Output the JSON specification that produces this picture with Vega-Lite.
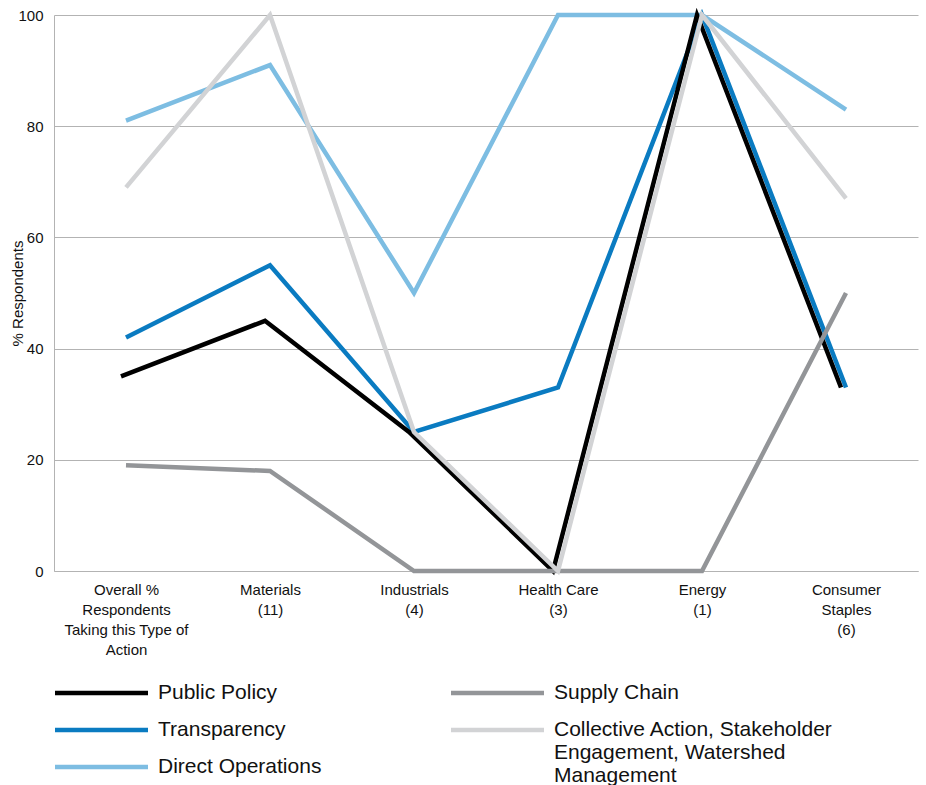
{
  "$schema": "https://vega.github.io/schema/vega-lite/v6.json",
  "width": 864,
  "height": 556,
  "autosize": {"type": "none"},
  "padding": {"left": 54, "top": 15, "right": 8, "bottom": 214},
  "background": "white",
  "config": {
    "font": "Liberation Sans",
    "view": {"stroke": null},
    "style": {"guide-label": {"lineHeight": 23}}
  },
  "data": {
    "values": [
      {"series": "Direct Operations", "sector": "Overall % Respondents Taking this Type of Action", "pct": 81},
      {"series": "Direct Operations", "sector": "Materials (11)", "pct": 91},
      {"series": "Direct Operations", "sector": "Industrials (4)", "pct": 50},
      {"series": "Direct Operations", "sector": "Health Care (3)", "pct": 100},
      {"series": "Direct Operations", "sector": "Energy (1)", "pct": 100},
      {"series": "Direct Operations", "sector": "Consumer Staples (6)", "pct": 83},
      {"series": "Transparency", "sector": "Overall % Respondents Taking this Type of Action", "pct": 42},
      {"series": "Transparency", "sector": "Materials (11)", "pct": 55},
      {"series": "Transparency", "sector": "Industrials (4)", "pct": 25},
      {"series": "Transparency", "sector": "Health Care (3)", "pct": 33},
      {"series": "Transparency", "sector": "Energy (1)", "pct": 100},
      {"series": "Transparency", "sector": "Consumer Staples (6)", "pct": 33},
      {"series": "Public Policy", "sector": "Overall % Respondents Taking this Type of Action", "pct": 35},
      {"series": "Public Policy", "sector": "Materials (11)", "pct": 45},
      {"series": "Public Policy", "sector": "Industrials (4)", "pct": 25},
      {"series": "Public Policy", "sector": "Health Care (3)", "pct": 0},
      {"series": "Public Policy", "sector": "Energy (1)", "pct": 100},
      {"series": "Public Policy", "sector": "Consumer Staples (6)", "pct": 33},
      {"series": "Supply Chain", "sector": "Overall % Respondents Taking this Type of Action", "pct": 19},
      {"series": "Supply Chain", "sector": "Materials (11)", "pct": 18},
      {"series": "Supply Chain", "sector": "Industrials (4)", "pct": 0},
      {"series": "Supply Chain", "sector": "Health Care (3)", "pct": 0},
      {"series": "Supply Chain", "sector": "Energy (1)", "pct": 0},
      {"series": "Supply Chain", "sector": "Consumer Staples (6)", "pct": 50},
      {"series": "Collective Action, Stakeholder Engagement, Watershed Management", "sector": "Overall % Respondents Taking this Type of Action", "pct": 69},
      {"series": "Collective Action, Stakeholder Engagement, Watershed Management", "sector": "Materials (11)", "pct": 100},
      {"series": "Collective Action, Stakeholder Engagement, Watershed Management", "sector": "Industrials (4)", "pct": 25},
      {"series": "Collective Action, Stakeholder Engagement, Watershed Management", "sector": "Health Care (3)", "pct": 0},
      {"series": "Collective Action, Stakeholder Engagement, Watershed Management", "sector": "Energy (1)", "pct": 100},
      {"series": "Collective Action, Stakeholder Engagement, Watershed Management", "sector": "Consumer Staples (6)", "pct": 67}
    ]
  },
  "encoding": {
    "x": {
      "field": "sector",
      "type": "nominal",
      "sort": ["Overall % Respondents Taking this Type of Action", "Materials (11)", "Industrials (4)", "Health Care (3)", "Energy (1)", "Consumer Staples (6)"],
      "scale": {"type": "point", "padding": 0.5},
      "axis": {
        "title": null,
        "labelAngle": 0,
        "labelFontSize": 15,
        "labelColor": "#111111",
        "labelLineHeight": 20,
        "labelPadding": 11.5,
        "labelOverlap": false,
        "labelLimit": 0,
        "ticks": false,
        "grid": false,
        "domainColor": "#b3b3b3",
        "domainWidth": 1,
        "labelExpr": "datum.value == 'Overall % Respondents Taking this Type of Action' ? ['Overall %', 'Respondents', 'Taking this Type of', 'Action'] : datum.value == 'Consumer Staples (6)' ? ['Consumer', 'Staples', '(6)'] : split(replace(datum.value, ' (', '|('), '|')"
      }
    },
    "y": {
      "field": "pct",
      "type": "quantitative",
      "scale": {"domain": [0, 100], "nice": false},
      "axis": {
        "title": "% Respondents",
        "values": [0, 20, 40, 60, 80, 100],
        "labelFontSize": 15,
        "labelColor": "#111111",
        "labelPadding": 11,
        "ticks": false,
        "grid": true,
        "gridColor": "#b3b3b3",
        "gridWidth": 1,
        "domainColor": "#b3b3b3",
        "domainWidth": 1,
        "titleFontSize": 15,
        "titleFontWeight": "normal",
        "titleColor": "#111111",
        "titlePadding": -8
      }
    }
  },
  "layer": [
    {
      "transform": [{"filter": {"field": "series", "oneOf": ["Direct Operations", "Transparency"]}}],
      "mark": {"type": "line", "strokeWidth": 4.5},
      "encoding": {
        "color": {
          "field": "series",
          "type": "nominal",
          "scale": {"domain": ["Public Policy", "Transparency", "Direct Operations"], "range": ["#000000", "#0a7bc1", "#7dbde2"]},
          "legend": {
            "orient": "none",
            "legendX": 1,
            "legendY": 667.5,
            "title": null,
            "direction": "vertical",
            "padding": 0,
            "symbolType": "M-5.8125,0H5.8125",
            "symbolSize": 256,
            "symbolStrokeWidth": 4.5,
            "symbolOffset": 36,
            "labelOffset": 46,
            "labelFontSize": 21,
            "labelColor": "#111111",
            "labelLimit": 0,
            "rowPadding": 15
          }
        }
      }
    },
    {
      "transform": [{"filter": {"field": "series", "equal": "Public Policy"}}],
      "mark": {"type": "line", "strokeWidth": 4.5, "xOffset": -5},
      "encoding": {
        "color": {
          "field": "series",
          "type": "nominal",
          "scale": {"domain": ["Public Policy", "Transparency", "Direct Operations"], "range": ["#000000", "#0a7bc1", "#7dbde2"]}
        }
      }
    },
    {
      "transform": [{"filter": {"field": "series", "oneOf": ["Supply Chain", "Collective Action, Stakeholder Engagement, Watershed Management"]}}],
      "mark": {"type": "line", "strokeWidth": 4.5},
      "encoding": {
        "stroke": {
          "field": "series",
          "type": "nominal",
          "scale": {"domain": ["Supply Chain", "Collective Action, Stakeholder Engagement, Watershed Management"], "range": ["#939598", "#d2d3d5"]},
          "legend": {
            "orient": "none",
            "legendX": 397,
            "legendY": 673.8,
            "title": null,
            "direction": "vertical",
            "padding": 0,
            "symbolType": "M-5.8125,-0.79H5.8125",
            "symbolSize": 256,
            "symbolStrokeWidth": 4.5,
            "symbolOffset": 36,
            "labelOffset": 46,
            "labelFontSize": 21,
            "labelColor": "#111111",
            "labelLimit": 0,
            "labelBaseline": "alphabetic",
            "rowPadding": 15,
            "labelExpr": "datum.label == 'Supply Chain' ? datum.label : ['Collective Action, Stakeholder', 'Engagement, Watershed', 'Management']"
          }
        }
      }
    }
  ]
}
